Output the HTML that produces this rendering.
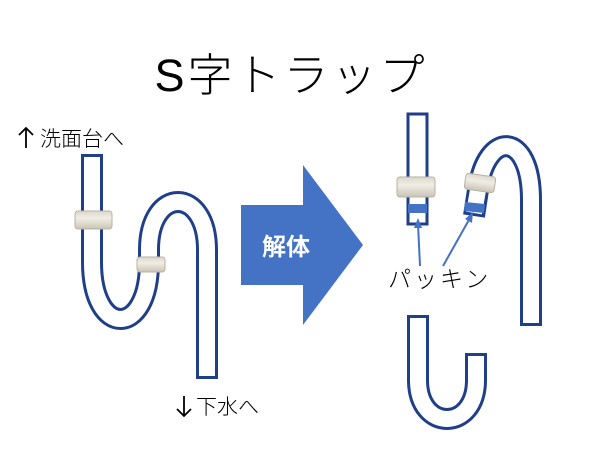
<!DOCTYPE html>
<html><head><meta charset="utf-8"><style>
html,body{margin:0;padding:0;background:#fff;}
svg{display:block;}
text{font-family:"Liberation Sans","Noto Sans CJK JP",sans-serif;}
</style></head><body>
<svg width="600" height="450" viewBox="0 0 600 450" xmlns="http://www.w3.org/2000/svg">
<defs>
<linearGradient id="cp" x1="0" y1="0" x2="0" y2="1">
<stop offset="0" stop-color="#dcd8cc"/><stop offset="0.4" stop-color="#f0ede4"/><stop offset="1" stop-color="#c9c4b6"/>
</linearGradient>
</defs>
<text x="291" y="91" font-size="45" text-anchor="middle" fill="#000" font-family="Noto Sans CJK JP, sans-serif" font-weight="300" letter-spacing="3">S字トラップ</text>
<!-- up arrow -->
<line x1="26" y1="128" x2="26" y2="148" stroke="#000" stroke-width="1.8"/>
<polyline points="19,135 26,128 33,135" fill="none" stroke="#000" stroke-width="1.8"/>
<text x="40" y="146" font-size="21" fill="#000" font-family="Noto Sans CJK JP, sans-serif" font-weight="300">洗面台へ</text>
<!-- down arrow -->
<line x1="184" y1="396" x2="184" y2="416" stroke="#000" stroke-width="1.8"/>
<polyline points="177,409 184,416 191,409" fill="none" stroke="#000" stroke-width="1.8"/>
<text x="196" y="414" font-size="21" fill="#000" font-family="Noto Sans CJK JP, sans-serif" font-weight="300">下水へ</text>

<!-- left S trap -->
<path d="M92,154 L92,262 C92,338 149,338 149,262 L149,250 C149,186 207,186 207,250 L207,379" fill="none" stroke="#1f3f8a" stroke-width="22"/>
<path d="M92,157 L92,262 C92,338 149,338 149,262 L149,250 C149,186 207,186 207,250 L207,376" fill="none" stroke="#fff" stroke-width="16"/>
<rect x="75" y="211" width="37" height="18" rx="3" fill="url(#cp)" stroke="#b8b2a2" stroke-width="1"/>
<rect x="137" y="257" width="28" height="15" rx="3" fill="url(#cp)" stroke="#b8b2a2" stroke-width="1"/>

<!-- big arrow -->
<polygon points="241,205 303,205 303,165 363,245 303,325 303,285 241,285" fill="#4472c4"/>
<text x="286" y="255" font-size="24" font-weight="bold" fill="#fff" text-anchor="middle">解体</text>

<!-- right top-left tube -->
<rect x="408" y="114" width="19" height="110" fill="#fff" stroke="#1f3f8a" stroke-width="3"/>
<rect x="408" y="204" width="19" height="9" fill="#4472c4"/>
<rect x="397" y="177" width="38" height="20" rx="3" fill="url(#cp)" stroke="#b8b2a2" stroke-width="1"/>

<!-- right arch -->
<path d="M474,216 L478,190 C486,130 531,130 531,200 L531,326" fill="none" stroke="#1f3f8a" stroke-width="22"/>
<path d="M474,213 L478,190 C486,130 531,130 531,200 L531,323" fill="none" stroke="#fff" stroke-width="16"/>
<polygon points="465,202 485,204 484,213 464,211" fill="#4472c4"/>
<g transform="rotate(8 480 183)"><rect x="465" y="175" width="30" height="16" rx="3" fill="url(#cp)" stroke="#b8b2a2" stroke-width="1"/></g>

<!-- bottom U -->
<path d="M418,315 L418,380 C418,432 476,432 476,380 L476,353" fill="none" stroke="#1f3f8a" stroke-width="22"/>
<path d="M418,318 L418,380 C418,432 476,432 476,380 L476,356" fill="none" stroke="#fff" stroke-width="16"/>

<!-- packing arrows -->
<line x1="420" y1="266" x2="418" y2="224" stroke="#4472c4" stroke-width="2"/>
<polygon points="418,218 414,228 422,228" fill="#4472c4"/>
<line x1="443" y1="266" x2="470" y2="218" stroke="#4472c4" stroke-width="2"/>
<polygon points="473,212 465,219 472,223" fill="#4472c4"/>
<text x="388" y="287" font-size="23" fill="#000" letter-spacing="3" font-family="Noto Sans CJK JP, sans-serif" font-weight="300">パッキン</text>
</svg>
</body></html>
